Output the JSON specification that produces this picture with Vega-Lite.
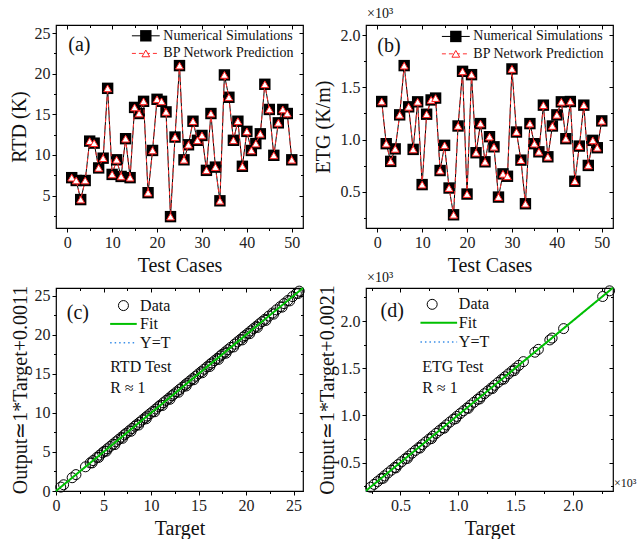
{
  "$schema": "https://vega.github.io/schema/vega-lite/v6.json",
  "background": "white",
  "padding": {"left": 8, "top": 6, "right": 0, "bottom": 0},
  "bounds": "flush",
  "columns": 2,
  "spacing": {"row": 60, "column": 63},
  "datasets": {
    "ts": [
      {"case": 1, "rtd_sim": 7.2, "rtd_pred": 7.2, "etg_sim": 1.365, "etg_pred": 1.365},
      {"case": 2, "rtd_sim": 6.85, "rtd_pred": 6.85, "etg_sim": 0.96, "etg_pred": 0.96},
      {"case": 3, "rtd_sim": 4.5, "rtd_pred": 4.5, "etg_sim": 0.79, "etg_pred": 0.79},
      {"case": 4, "rtd_sim": 6.85, "rtd_pred": 6.85, "etg_sim": 0.91, "etg_pred": 0.91},
      {"case": 5, "rtd_sim": 11.7, "rtd_pred": 11.7, "etg_sim": 1.237, "etg_pred": 1.237},
      {"case": 6, "rtd_sim": 11.45, "rtd_pred": 11.45, "etg_sim": 1.71, "etg_pred": 1.71},
      {"case": 7, "rtd_sim": 8.4, "rtd_pred": 8.4, "etg_sim": 1.314, "etg_pred": 1.314},
      {"case": 8, "rtd_sim": 9.6, "rtd_pred": 9.6, "etg_sim": 0.905, "etg_pred": 0.905},
      {"case": 9, "rtd_sim": 18.2, "rtd_pred": 18.2, "etg_sim": 1.362, "etg_pred": 1.362},
      {"case": 10, "rtd_sim": 7.6, "rtd_pred": 7.6, "etg_sim": 0.567, "etg_pred": 0.567},
      {"case": 11, "rtd_sim": 9.4, "rtd_pred": 9.4, "etg_sim": 1.243, "etg_pred": 1.243},
      {"case": 12, "rtd_sim": 7.35, "rtd_pred": 7.35, "etg_sim": 1.38, "etg_pred": 1.38},
      {"case": 13, "rtd_sim": 12.0, "rtd_pred": 12.0, "etg_sim": 1.398, "etg_pred": 1.398},
      {"case": 14, "rtd_sim": 7.2, "rtd_pred": 7.2, "etg_sim": 0.702, "etg_pred": 0.702},
      {"case": 15, "rtd_sim": 15.85, "rtd_pred": 15.85, "etg_sim": 0.944, "etg_pred": 0.944},
      {"case": 16, "rtd_sim": 15.1, "rtd_pred": 15.1, "etg_sim": 0.534, "etg_pred": 0.534},
      {"case": 17, "rtd_sim": 16.6, "rtd_pred": 16.6, "etg_sim": 0.277, "etg_pred": 0.277},
      {"case": 18, "rtd_sim": 5.35, "rtd_pred": 5.35, "etg_sim": 1.13, "etg_pred": 1.13},
      {"case": 19, "rtd_sim": 10.55, "rtd_pred": 10.55, "etg_sim": 1.655, "etg_pred": 1.655},
      {"case": 20, "rtd_sim": 16.85, "rtd_pred": 16.85, "etg_sim": 0.476, "etg_pred": 0.476},
      {"case": 21, "rtd_sim": 16.6, "rtd_pred": 16.6, "etg_sim": 1.623, "etg_pred": 1.623},
      {"case": 22, "rtd_sim": 15.3, "rtd_pred": 15.3, "etg_sim": 0.873, "etg_pred": 0.873},
      {"case": 23, "rtd_sim": 2.4, "rtd_pred": 2.4, "etg_sim": 1.153, "etg_pred": 1.153},
      {"case": 24, "rtd_sim": 12.2, "rtd_pred": 12.2, "etg_sim": 0.786, "etg_pred": 0.786},
      {"case": 25, "rtd_sim": 21.0, "rtd_pred": 21.0, "etg_sim": 1.027, "etg_pred": 1.027},
      {"case": 26, "rtd_sim": 9.4, "rtd_pred": 9.4, "etg_sim": 0.93, "etg_pred": 0.93},
      {"case": 27, "rtd_sim": 11.25, "rtd_pred": 11.25, "etg_sim": 0.447, "etg_pred": 0.447},
      {"case": 28, "rtd_sim": 14.15, "rtd_pred": 14.15, "etg_sim": 0.67, "etg_pred": 0.67},
      {"case": 29, "rtd_sim": 11.8, "rtd_pred": 11.8, "etg_sim": 0.647, "etg_pred": 0.647},
      {"case": 30, "rtd_sim": 12.4, "rtd_pred": 12.4, "etg_sim": 1.678, "etg_pred": 1.678},
      {"case": 31, "rtd_sim": 8.1, "rtd_pred": 8.1, "etg_sim": 1.072, "etg_pred": 1.072},
      {"case": 32, "rtd_sim": 15.1, "rtd_pred": 15.1, "etg_sim": 0.802, "etg_pred": 0.802},
      {"case": 33, "rtd_sim": 8.5, "rtd_pred": 8.5, "etg_sim": 0.383, "etg_pred": 0.383},
      {"case": 34, "rtd_sim": 4.35, "rtd_pred": 4.35, "etg_sim": 1.153, "etg_pred": 1.153},
      {"case": 35, "rtd_sim": 19.85, "rtd_pred": 19.85, "etg_sim": 0.96, "etg_pred": 0.96},
      {"case": 36, "rtd_sim": 17.1, "rtd_pred": 17.1, "etg_sim": 0.882, "etg_pred": 0.882},
      {"case": 37, "rtd_sim": 11.8, "rtd_pred": 11.8, "etg_sim": 1.33, "etg_pred": 1.33},
      {"case": 38, "rtd_sim": 14.15, "rtd_pred": 14.15, "etg_sim": 0.834, "etg_pred": 0.834},
      {"case": 39, "rtd_sim": 8.6, "rtd_pred": 8.6, "etg_sim": 1.13, "etg_pred": 1.13},
      {"case": 40, "rtd_sim": 12.9, "rtd_pred": 12.9, "etg_sim": 1.237, "etg_pred": 1.237},
      {"case": 41, "rtd_sim": 10.55, "rtd_pred": 10.55, "etg_sim": 1.362, "etg_pred": 1.362},
      {"case": 42, "rtd_sim": 11.4, "rtd_pred": 11.4, "etg_sim": 1.008, "etg_pred": 1.008},
      {"case": 43, "rtd_sim": 12.6, "rtd_pred": 12.6, "etg_sim": 1.365, "etg_pred": 1.365},
      {"case": 44, "rtd_sim": 18.7, "rtd_pred": 18.7, "etg_sim": 0.599, "etg_pred": 0.599},
      {"case": 45, "rtd_sim": 15.6, "rtd_pred": 15.6, "etg_sim": 0.937, "etg_pred": 0.937},
      {"case": 46, "rtd_sim": 9.95, "rtd_pred": 9.95, "etg_sim": 1.33, "etg_pred": 1.33},
      {"case": 47, "rtd_sim": 13.95, "rtd_pred": 13.95, "etg_sim": 0.751, "etg_pred": 0.751},
      {"case": 48, "rtd_sim": 15.6, "rtd_pred": 15.6, "etg_sim": 0.992, "etg_pred": 0.992},
      {"case": 49, "rtd_sim": 15.1, "rtd_pred": 15.1, "etg_sim": 0.921, "etg_pred": 0.921},
      {"case": 50, "rtd_sim": 9.4, "rtd_pred": 9.4, "etg_sim": 1.179, "etg_pred": 1.179}
    ],
    "rtd_reg": [
      {"target": 0.5, "output": 0.5}, {"target": 0.8, "output": 0.8}, {"target": 1.7, "output": 1.7}, {"target": 2.1, "output": 2.1},
      {"target": 3.1, "output": 3.1}, {"target": 3.6, "output": 3.6}, {"target": 3.9, "output": 3.9}, {"target": 4.3, "output": 4.3},
      {"target": 4.6, "output": 4.6}, {"target": 4.9, "output": 4.9}, {"target": 5.1, "output": 5.1}, {"target": 5.4, "output": 5.4},
      {"target": 5.7, "output": 5.7}, {"target": 6.0, "output": 6.0}, {"target": 6.3, "output": 6.3}, {"target": 6.6, "output": 6.6},
      {"target": 6.9, "output": 6.9}, {"target": 7.2, "output": 7.2}, {"target": 7.4, "output": 7.4}, {"target": 7.7, "output": 7.7},
      {"target": 8.0, "output": 8.0}, {"target": 8.3, "output": 8.3}, {"target": 8.5, "output": 8.5}, {"target": 8.8, "output": 8.8},
      {"target": 9.1, "output": 9.1}, {"target": 9.4, "output": 9.4}, {"target": 9.6, "output": 9.6}, {"target": 9.9, "output": 9.9},
      {"target": 10.2, "output": 10.2}, {"target": 10.5, "output": 10.5}, {"target": 10.8, "output": 10.8}, {"target": 11.0, "output": 11.0},
      {"target": 11.3, "output": 11.3}, {"target": 11.6, "output": 11.6}, {"target": 11.9, "output": 11.9}, {"target": 12.2, "output": 12.2},
      {"target": 12.4, "output": 12.4}, {"target": 12.7, "output": 12.7}, {"target": 13.0, "output": 13.0}, {"target": 13.3, "output": 13.3},
      {"target": 13.6, "output": 13.6}, {"target": 13.8, "output": 13.8}, {"target": 14.1, "output": 14.1}, {"target": 14.4, "output": 14.4},
      {"target": 14.7, "output": 14.7}, {"target": 15.0, "output": 15.0}, {"target": 15.3, "output": 15.3}, {"target": 15.6, "output": 15.6},
      {"target": 15.9, "output": 15.9}, {"target": 16.2, "output": 16.2}, {"target": 16.4, "output": 16.4}, {"target": 16.7, "output": 16.7},
      {"target": 17.0, "output": 17.0}, {"target": 17.3, "output": 17.3}, {"target": 17.5, "output": 17.5}, {"target": 17.8, "output": 17.8},
      {"target": 18.1, "output": 18.1}, {"target": 18.4, "output": 18.4}, {"target": 18.8, "output": 18.8}, {"target": 19.1, "output": 19.1},
      {"target": 19.4, "output": 19.4}, {"target": 19.7, "output": 19.7}, {"target": 19.9, "output": 19.9}, {"target": 20.2, "output": 20.2},
      {"target": 20.5, "output": 20.5}, {"target": 20.8, "output": 20.8}, {"target": 21.1, "output": 21.1}, {"target": 21.4, "output": 21.4},
      {"target": 21.7, "output": 21.7}, {"target": 22.0, "output": 22.0}, {"target": 22.4, "output": 22.4}, {"target": 22.8, "output": 22.8},
      {"target": 23.2, "output": 23.2}, {"target": 23.6, "output": 23.6}, {"target": 24.0, "output": 24.0}, {"target": 24.4, "output": 24.4},
      {"target": 24.9, "output": 24.9}, {"target": 25.3, "output": 25.3}, {"target": 25.6, "output": 25.6},
      {"target": 3.8, "output": 3.6}, {"target": 4.5, "output": 4.3}, {"target": 5.3, "output": 5.1}, {"target": 6.2, "output": 5.95},
      {"target": 7.0, "output": 6.75}, {"target": 7.9, "output": 7.65}, {"target": 8.7, "output": 8.45}, {"target": 9.5, "output": 9.25},
      {"target": 10.4, "output": 10.15}, {"target": 11.2, "output": 10.95}, {"target": 12.0, "output": 11.75}, {"target": 12.9, "output": 12.65},
      {"target": 13.7, "output": 13.45}, {"target": 14.5, "output": 14.25}, {"target": 15.4, "output": 15.15}, {"target": 16.2, "output": 15.95},
      {"target": 17.1, "output": 16.85}, {"target": 17.9, "output": 17.65}, {"target": 18.7, "output": 18.45}, {"target": 19.6, "output": 19.35},
      {"target": 20.4, "output": 20.15}, {"target": 21.2, "output": 20.95}, {"target": 22.1, "output": 21.85}, {"target": 22.9, "output": 22.65},
      {"target": 23.8, "output": 23.55}, {"target": 24.6, "output": 24.35}, {"target": 25.5, "output": 25.3}
    ],
    "etg_reg": [
      {"target": 0.24, "output": 0.24}, {"target": 0.27, "output": 0.27}, {"target": 0.30, "output": 0.30}, {"target": 0.33, "output": 0.33},
      {"target": 0.36, "output": 0.36}, {"target": 0.39, "output": 0.39}, {"target": 0.42, "output": 0.42}, {"target": 0.45, "output": 0.45},
      {"target": 0.48, "output": 0.48}, {"target": 0.51, "output": 0.51}, {"target": 0.54, "output": 0.54}, {"target": 0.57, "output": 0.57},
      {"target": 0.60, "output": 0.60}, {"target": 0.63, "output": 0.63}, {"target": 0.66, "output": 0.66}, {"target": 0.69, "output": 0.69},
      {"target": 0.72, "output": 0.72}, {"target": 0.75, "output": 0.75}, {"target": 0.78, "output": 0.78}, {"target": 0.81, "output": 0.81},
      {"target": 0.84, "output": 0.84}, {"target": 0.87, "output": 0.87}, {"target": 0.90, "output": 0.90}, {"target": 0.93, "output": 0.93},
      {"target": 0.96, "output": 0.96}, {"target": 0.99, "output": 0.99}, {"target": 1.02, "output": 1.02}, {"target": 1.05, "output": 1.05},
      {"target": 1.08, "output": 1.08}, {"target": 1.11, "output": 1.11}, {"target": 1.14, "output": 1.14}, {"target": 1.17, "output": 1.17},
      {"target": 1.20, "output": 1.20}, {"target": 1.23, "output": 1.23}, {"target": 1.26, "output": 1.26}, {"target": 1.29, "output": 1.29},
      {"target": 1.32, "output": 1.32}, {"target": 1.35, "output": 1.35}, {"target": 1.38, "output": 1.38}, {"target": 1.41, "output": 1.41},
      {"target": 1.44, "output": 1.44}, {"target": 1.47, "output": 1.47}, {"target": 1.50, "output": 1.50}, {"target": 1.53, "output": 1.53},
      {"target": 1.57, "output": 1.57}, {"target": 1.67, "output": 1.67}, {"target": 1.70, "output": 1.70}, {"target": 1.80, "output": 1.80},
      {"target": 1.82, "output": 1.82}, {"target": 1.92, "output": 1.92}, {"target": 2.26, "output": 2.26}, {"target": 2.32, "output": 2.32},
      {"target": 0.35, "output": 0.335}, {"target": 0.46, "output": 0.445}, {"target": 0.56, "output": 0.545}, {"target": 0.67, "output": 0.655},
      {"target": 0.77, "output": 0.755}, {"target": 0.88, "output": 0.865}, {"target": 0.98, "output": 0.965}, {"target": 1.09, "output": 1.075},
      {"target": 1.19, "output": 1.175}, {"target": 1.30, "output": 1.285}, {"target": 1.40, "output": 1.385}, {"target": 1.49, "output": 1.475}
    ]
  },
  "concat": [
    {
      "width": 247, "height": 203,
      "data": {"name": "ts"},
      "layer": [
        {"mark": {"type": "line", "color": "black", "strokeWidth": 1},
         "encoding": {
           "x": {"field": "case", "type": "quantitative", "scale": {"domain": [-2.5, 52.5], "nice": false, "zero": false},
                 "axis": {"orient": "bottom", "title": "Test Cases", "values": [0, 5, 10, 15, 20, 25, 30, 35, 40, 45, 50], "labelExpr": "datum.value % 10 === 0 ? datum.label : ''", "tickSize": {"expr": "datum.value % 10 === 0 ? 4 : 2.5"}, "titlePadding": 5}},
           "y": {"field": "rtd_sim", "type": "quantitative", "scale": {"domain": [1, 26], "nice": false, "zero": false},
                 "axis": {"orient": "left", "title": "RTD (K)", "values": [2.5, 5, 7.5, 10, 12.5, 15, 17.5, 20, 22.5, 25], "labelExpr": "datum.value % 5 === 0 ? datum.label : ''", "tickSize": {"expr": "datum.value % 5 === 0 ? 4 : 2.5"}, "titlePadding": 5}}}},
        {"mark": {"type": "point", "shape": "square", "filled": true, "color": "black", "size": 130, "opacity": 1},
         "encoding": {"x": {"field": "case", "type": "quantitative", "axis": null}, "y": {"field": "rtd_sim", "type": "quantitative", "axis": null}}},
        {"mark": {"type": "line", "color": "#ff3030", "strokeWidth": 1, "strokeDash": [4, 3]},
         "encoding": {
           "x": {"field": "case", "type": "quantitative", "axis": {"orient": "top", "title": null, "labels": false, "values": [0, 5, 10, 15, 20, 25, 30, 35, 40, 45, 50], "tickSize": {"expr": "datum.value % 10 === 0 ? -4 : -2.5"}}},
           "y": {"field": "rtd_pred", "type": "quantitative", "axis": {"orient": "right", "title": null, "labels": false, "values": [2.5, 5, 7.5, 10, 12.5, 15, 17.5, 20, 22.5, 25], "tickSize": {"expr": "datum.value % 5 === 0 ? -4 : -2.5"}}}}},
        {"mark": {"type": "point", "shape": "triangle-up", "filled": true, "fill": "white", "stroke": "#ff2020", "strokeWidth": 1, "size": 60, "opacity": 1},
         "encoding": {"x": {"field": "case", "type": "quantitative", "axis": null}, "y": {"field": "rtd_pred", "type": "quantitative", "axis": null}}},
        {"data": {"values": [{}]}, "mark": {"type": "rule", "color": "black", "strokeWidth": 1},
         "encoding": {"x": {"datum": 14.4, "type": "quantitative", "axis": null}, "x2": {"datum": 20.6}, "y": {"datum": 24.67, "type": "quantitative", "axis": null}}},
        {"data": {"values": [{}]}, "mark": {"type": "point", "shape": "square", "filled": true, "color": "black", "size": 130, "opacity": 1},
         "encoding": {"x": {"datum": 17.5, "type": "quantitative", "axis": null}, "y": {"datum": 24.67, "type": "quantitative", "axis": null}}},
        {"data": {"values": [{}]}, "mark": {"type": "text", "text": "Numerical Simulations", "font": "Liberation Serif", "align": "left", "baseline": "middle", "fontSize": 14, "color": "#111"},
         "encoding": {"x": {"datum": 21.4, "type": "quantitative", "axis": null}, "y": {"datum": 24.67, "type": "quantitative", "axis": null}}},
        {"data": {"values": [{}]}, "mark": {"type": "rule", "color": "#ff3030", "strokeWidth": 1, "strokeDash": [4, 3]},
         "encoding": {"x": {"datum": 14.4, "type": "quantitative", "axis": null}, "x2": {"datum": 20.6}, "y": {"datum": 22.5, "type": "quantitative", "axis": null}}},
        {"data": {"values": [{}]}, "mark": {"type": "point", "shape": "triangle-up", "filled": true, "fill": "white", "stroke": "#ff2020", "strokeWidth": 1, "size": 60, "opacity": 1},
         "encoding": {"x": {"datum": 17.5, "type": "quantitative", "axis": null}, "y": {"datum": 22.5, "type": "quantitative", "axis": null}}},
        {"data": {"values": [{}]}, "mark": {"type": "text", "text": "BP Network Prediction", "font": "Liberation Serif", "align": "left", "baseline": "middle", "fontSize": 14, "color": "#111"},
         "encoding": {"x": {"datum": 21.4, "type": "quantitative", "axis": null}, "y": {"datum": 22.5, "type": "quantitative", "axis": null}}},
        {"data": {"values": [{}]}, "mark": {"type": "text", "text": "(a)", "font": "Liberation Serif", "align": "center", "baseline": "middle", "fontSize": 20, "color": "#111"},
         "encoding": {"x": {"datum": 2.7, "type": "quantitative", "axis": null}, "y": {"datum": 23.55, "type": "quantitative", "axis": null}}}
      ]
    },
    {
      "width": 247, "height": 203,
      "data": {"name": "ts"},
      "layer": [
        {"mark": {"type": "line", "color": "black", "strokeWidth": 1},
         "encoding": {
           "x": {"field": "case", "type": "quantitative", "scale": {"domain": [-2.5, 52.5], "nice": false, "zero": false},
                 "axis": {"orient": "bottom", "title": "Test Cases", "values": [0, 5, 10, 15, 20, 25, 30, 35, 40, 45, 50], "labelExpr": "datum.value % 10 === 0 ? datum.label : ''", "tickSize": {"expr": "datum.value % 10 === 0 ? 4 : 2.5"}, "titlePadding": 5}},
           "y": {"field": "etg_sim", "type": "quantitative", "scale": {"domain": [0.15, 2.1], "nice": false, "zero": false},
                 "axis": {"orient": "left", "title": "ETG (K/m)", "format": ".1f", "values": [0.25, 0.5, 0.75, 1, 1.25, 1.5, 1.75, 2], "labelExpr": "abs(datum.value*2 - round(datum.value*2)) < 0.001 ? datum.label : ''", "tickSize": {"expr": "abs(datum.value*2 - round(datum.value*2)) < 0.001 ? 4 : 2.5"}, "titlePadding": 7}}}},
        {"mark": {"type": "point", "shape": "square", "filled": true, "color": "black", "size": 130, "opacity": 1},
         "encoding": {"x": {"field": "case", "type": "quantitative", "axis": null}, "y": {"field": "etg_sim", "type": "quantitative", "axis": null}}},
        {"mark": {"type": "line", "color": "#ff3030", "strokeWidth": 1, "strokeDash": [4, 3]},
         "encoding": {
           "x": {"field": "case", "type": "quantitative", "axis": {"orient": "top", "title": null, "labels": false, "values": [0, 5, 10, 15, 20, 25, 30, 35, 40, 45, 50], "tickSize": {"expr": "datum.value % 10 === 0 ? -4 : -2.5"}}},
           "y": {"field": "etg_pred", "type": "quantitative", "axis": {"orient": "right", "title": null, "labels": false, "values": [0.25, 0.5, 0.75, 1, 1.25, 1.5, 1.75, 2], "tickSize": {"expr": "abs(datum.value*2 - round(datum.value*2)) < 0.001 ? -4 : -2.5"}}}}},
        {"mark": {"type": "point", "shape": "triangle-up", "filled": true, "fill": "white", "stroke": "#ff2020", "strokeWidth": 1, "size": 60, "opacity": 1},
         "encoding": {"x": {"field": "case", "type": "quantitative", "axis": null}, "y": {"field": "etg_pred", "type": "quantitative", "axis": null}}},
        {"data": {"values": [{}]}, "mark": {"type": "rule", "color": "black", "strokeWidth": 1},
         "encoding": {"x": {"datum": 14.4, "type": "quantitative", "axis": null}, "x2": {"datum": 20.6}, "y": {"datum": 1.99, "type": "quantitative", "axis": null}}},
        {"data": {"values": [{}]}, "mark": {"type": "point", "shape": "square", "filled": true, "color": "black", "size": 130, "opacity": 1},
         "encoding": {"x": {"datum": 17.5, "type": "quantitative", "axis": null}, "y": {"datum": 1.99, "type": "quantitative", "axis": null}}},
        {"data": {"values": [{}]}, "mark": {"type": "text", "text": "Numerical Simulations", "font": "Liberation Serif", "align": "left", "baseline": "middle", "fontSize": 14, "color": "#111"},
         "encoding": {"x": {"datum": 21.4, "type": "quantitative", "axis": null}, "y": {"datum": 1.99, "type": "quantitative", "axis": null}}},
        {"data": {"values": [{}]}, "mark": {"type": "rule", "color": "#ff3030", "strokeWidth": 1, "strokeDash": [4, 3]},
         "encoding": {"x": {"datum": 14.4, "type": "quantitative", "axis": null}, "x2": {"datum": 20.6}, "y": {"datum": 1.823, "type": "quantitative", "axis": null}}},
        {"data": {"values": [{}]}, "mark": {"type": "point", "shape": "triangle-up", "filled": true, "fill": "white", "stroke": "#ff2020", "strokeWidth": 1, "size": 60, "opacity": 1},
         "encoding": {"x": {"datum": 17.5, "type": "quantitative", "axis": null}, "y": {"datum": 1.823, "type": "quantitative", "axis": null}}},
        {"data": {"values": [{}]}, "mark": {"type": "text", "text": "BP Network Prediction", "font": "Liberation Serif", "align": "left", "baseline": "middle", "fontSize": 14, "color": "#111"},
         "encoding": {"x": {"datum": 21.4, "type": "quantitative", "axis": null}, "y": {"datum": 1.823, "type": "quantitative", "axis": null}}},
        {"data": {"values": [{}]}, "mark": {"type": "text", "text": "(b)", "font": "Liberation Serif", "align": "center", "baseline": "middle", "fontSize": 20, "color": "#111"},
         "encoding": {"x": {"datum": 2.6, "type": "quantitative", "axis": null}, "y": {"datum": 1.9, "type": "quantitative", "axis": null}}},
        {"data": {"values": [{}]}, "mark": {"type": "text", "text": "×10³", "font": "Liberation Serif", "align": "left", "baseline": "middle", "dx": 1, "dy": -11, "fontSize": 14, "color": "#111"},
         "encoding": {"x": {"datum": -2.5, "type": "quantitative", "axis": null}, "y": {"datum": 2.1, "type": "quantitative", "axis": null}}}
      ]
    },
    {
      "width": 247, "height": 203,
      "data": {"name": "rtd_reg"},
      "layer": [
        {"mark": {"type": "point", "shape": "circle", "filled": false, "color": "black", "strokeWidth": 1, "size": 100, "opacity": 1},
         "encoding": {
           "x": {"field": "target", "type": "quantitative", "scale": {"domain": [0, 26], "nice": false, "zero": false},
                 "axis": {"orient": "bottom", "title": "Target", "values": [0, 2.5, 5, 7.5, 10, 12.5, 15, 17.5, 20, 22.5, 25], "labelExpr": "datum.value % 5 === 0 ? datum.label : ''", "tickSize": {"expr": "datum.value % 5 === 0 ? 4 : 2.5"}, "titlePadding": 5}},
           "y": {"field": "output", "type": "quantitative", "scale": {"domain": [0, 26], "nice": false, "zero": false},
                 "axis": {"orient": "left", "title": "Output≃1*Target+0.0011", "values": [0, 2.5, 5, 7.5, 10, 12.5, 15, 17.5, 20, 22.5, 25], "labelExpr": "datum.value % 5 === 0 ? datum.label : ''", "tickSize": {"expr": "datum.value % 5 === 0 ? 4 : 2.5"}, "titlePadding": 4}}}},
        {"data": {"values": [{}]}, "mark": {"type": "rule", "color": "#3b8fe8", "strokeWidth": 1.5, "strokeDash": [1.5, 3]},
         "encoding": {"x": {"datum": 0, "type": "quantitative", "axis": null}, "x2": {"datum": 26}, "y": {"datum": 0, "type": "quantitative", "axis": null}, "y2": {"datum": 26}}},
        {"data": {"values": [{}]}, "mark": {"type": "rule", "color": "#00c000", "strokeWidth": 2},
         "encoding": {"x": {"datum": 0, "type": "quantitative", "axis": {"orient": "top", "title": null, "labels": false, "values": [0, 2.5, 5, 7.5, 10, 12.5, 15, 17.5, 20, 22.5, 25], "tickSize": {"expr": "datum.value % 5 === 0 ? -4 : -2.5"}}}, "x2": {"datum": 26},
                      "y": {"datum": 0.0011, "type": "quantitative", "axis": {"orient": "right", "title": null, "labels": false, "values": [0, 2.5, 5, 7.5, 10, 12.5, 15, 17.5, 20, 22.5, 25], "tickSize": {"expr": "datum.value % 5 === 0 ? -4 : -2.5"}}}, "y2": {"datum": 26.0011}}},
        {"data": {"values": [{}]}, "mark": {"type": "point", "shape": "circle", "filled": false, "color": "black", "strokeWidth": 1, "size": 100, "opacity": 1},
         "encoding": {"x": {"datum": 7.1, "type": "quantitative", "axis": null}, "y": {"datum": 23.75, "type": "quantitative", "axis": null}}},
        {"data": {"values": [{}]}, "mark": {"type": "text", "text": "Data", "font": "Liberation Serif", "align": "left", "baseline": "middle", "fontSize": 16, "color": "#111"},
         "encoding": {"x": {"datum": 8.85, "type": "quantitative", "axis": null}, "y": {"datum": 23.75, "type": "quantitative", "axis": null}}},
        {"data": {"values": [{}]}, "mark": {"type": "rule", "color": "#00c000", "strokeWidth": 2},
         "encoding": {"x": {"datum": 5.7, "type": "quantitative", "axis": null}, "x2": {"datum": 8.5}, "y": {"datum": 21.4, "type": "quantitative", "axis": null}}},
        {"data": {"values": [{}]}, "mark": {"type": "text", "text": "Fit", "font": "Liberation Serif", "align": "left", "baseline": "middle", "fontSize": 16, "color": "#111"},
         "encoding": {"x": {"datum": 8.85, "type": "quantitative", "axis": null}, "y": {"datum": 21.4, "type": "quantitative", "axis": null}}},
        {"data": {"values": [{}]}, "mark": {"type": "rule", "color": "#3b8fe8", "strokeWidth": 1.5, "strokeDash": [1.5, 3]},
         "encoding": {"x": {"datum": 5.7, "type": "quantitative", "axis": null}, "x2": {"datum": 8.5}, "y": {"datum": 19.0, "type": "quantitative", "axis": null}}},
        {"data": {"values": [{}]}, "mark": {"type": "text", "text": "Y=T", "font": "Liberation Serif", "align": "left", "baseline": "middle", "fontSize": 16, "color": "#111"},
         "encoding": {"x": {"datum": 8.85, "type": "quantitative", "axis": null}, "y": {"datum": 19.0, "type": "quantitative", "axis": null}}},
        {"data": {"values": [{}]}, "mark": {"type": "text", "text": "RTD Test", "font": "Liberation Serif", "align": "left", "baseline": "middle", "fontSize": 16, "color": "#111"},
         "encoding": {"x": {"datum": 5.7, "type": "quantitative", "axis": null}, "y": {"datum": 15.9, "type": "quantitative", "axis": null}}},
        {"data": {"values": [{}]}, "mark": {"type": "text", "text": "R ≈ 1", "font": "Liberation Serif", "align": "left", "baseline": "middle", "fontSize": 16, "color": "#111"},
         "encoding": {"x": {"datum": 5.7, "type": "quantitative", "axis": null}, "y": {"datum": 13.2, "type": "quantitative", "axis": null}}},
        {"data": {"values": [{}]}, "mark": {"type": "text", "text": "(c)", "font": "Liberation Serif", "align": "center", "baseline": "middle", "fontSize": 20, "color": "#111"},
         "encoding": {"x": {"datum": 2.3, "type": "quantitative", "axis": null}, "y": {"datum": 22.8, "type": "quantitative", "axis": null}}}
      ]
    },
    {
      "width": 247, "height": 203,
      "data": {"name": "etg_reg"},
      "layer": [
        {"mark": {"type": "point", "shape": "circle", "filled": false, "color": "black", "strokeWidth": 1, "size": 100, "opacity": 1},
         "encoding": {
           "x": {"field": "target", "type": "quantitative", "scale": {"domain": [0.2, 2.35], "nice": false, "zero": false},
                 "axis": {"orient": "bottom", "title": "Target", "format": ".1f", "values": [0.25, 0.5, 0.75, 1, 1.25, 1.5, 1.75, 2, 2.25], "labelExpr": "abs(datum.value*2 - round(datum.value*2)) < 0.001 ? datum.label : ''", "tickSize": {"expr": "abs(datum.value*2 - round(datum.value*2)) < 0.001 ? 4 : 2.5"}, "titlePadding": 5}},
           "y": {"field": "output", "type": "quantitative", "scale": {"domain": [0.2, 2.35], "nice": false, "zero": false},
                 "axis": {"orient": "left", "title": "Output≃1*Target+0.0021", "format": ".1f", "values": [0.25, 0.5, 0.75, 1, 1.25, 1.5, 1.75, 2, 2.25], "labelExpr": "abs(datum.value*2 - round(datum.value*2)) < 0.001 ? datum.label : ''", "tickSize": {"expr": "abs(datum.value*2 - round(datum.value*2)) < 0.001 ? 4 : 2.5"}, "titlePadding": 3}}}},
        {"data": {"values": [{}]}, "mark": {"type": "rule", "color": "#3b8fe8", "strokeWidth": 1.5, "strokeDash": [1.5, 3]},
         "encoding": {"x": {"datum": 0.2, "type": "quantitative", "axis": null}, "x2": {"datum": 2.35}, "y": {"datum": 0.2, "type": "quantitative", "axis": null}, "y2": {"datum": 2.35}}},
        {"data": {"values": [{}]}, "mark": {"type": "rule", "color": "#00c000", "strokeWidth": 2},
         "encoding": {"x": {"datum": 0.2, "type": "quantitative", "axis": {"orient": "top", "title": null, "labels": false, "values": [0.25, 0.5, 0.75, 1, 1.25, 1.5, 1.75, 2, 2.25], "tickSize": {"expr": "abs(datum.value*2 - round(datum.value*2)) < 0.001 ? -4 : -2.5"}}}, "x2": {"datum": 2.35},
                      "y": {"datum": 0.2021, "type": "quantitative", "axis": {"orient": "right", "title": null, "labels": false, "values": [0.25, 0.5, 0.75, 1, 1.25, 1.5, 1.75, 2, 2.25], "tickSize": {"expr": "abs(datum.value*2 - round(datum.value*2)) < 0.001 ? -4 : -2.5"}}}, "y2": {"datum": 2.3521}}},
        {"data": {"values": [{}]}, "mark": {"type": "point", "shape": "circle", "filled": false, "color": "black", "strokeWidth": 1, "size": 100, "opacity": 1},
         "encoding": {"x": {"datum": 0.776, "type": "quantitative", "axis": null}, "y": {"datum": 2.177, "type": "quantitative", "axis": null}}},
        {"data": {"values": [{}]}, "mark": {"type": "text", "text": "Data", "font": "Liberation Serif", "align": "left", "baseline": "middle", "fontSize": 16, "color": "#111"},
         "encoding": {"x": {"datum": 1.008, "type": "quantitative", "axis": null}, "y": {"datum": 2.177, "type": "quantitative", "axis": null}}},
        {"data": {"values": [{}]}, "mark": {"type": "rule", "color": "#00c000", "strokeWidth": 2},
         "encoding": {"x": {"datum": 0.674, "type": "quantitative", "axis": null}, "x2": {"datum": 0.993}, "y": {"datum": 1.983, "type": "quantitative", "axis": null}}},
        {"data": {"values": [{}]}, "mark": {"type": "text", "text": "Fit", "font": "Liberation Serif", "align": "left", "baseline": "middle", "fontSize": 16, "color": "#111"},
         "encoding": {"x": {"datum": 1.008, "type": "quantitative", "axis": null}, "y": {"datum": 1.983, "type": "quantitative", "axis": null}}},
        {"data": {"values": [{}]}, "mark": {"type": "rule", "color": "#3b8fe8", "strokeWidth": 1.5, "strokeDash": [1.5, 3]},
         "encoding": {"x": {"datum": 0.674, "type": "quantitative", "axis": null}, "x2": {"datum": 0.993}, "y": {"datum": 1.778, "type": "quantitative", "axis": null}}},
        {"data": {"values": [{}]}, "mark": {"type": "text", "text": "Y=T", "font": "Liberation Serif", "align": "left", "baseline": "middle", "fontSize": 16, "color": "#111"},
         "encoding": {"x": {"datum": 1.008, "type": "quantitative", "axis": null}, "y": {"datum": 1.778, "type": "quantitative", "axis": null}}},
        {"data": {"values": [{}]}, "mark": {"type": "text", "text": "ETG Test", "font": "Liberation Serif", "align": "left", "baseline": "middle", "fontSize": 16, "color": "#111"},
         "encoding": {"x": {"datum": 0.689, "type": "quantitative", "axis": null}, "y": {"datum": 1.517, "type": "quantitative", "axis": null}}},
        {"data": {"values": [{}]}, "mark": {"type": "text", "text": "R ≈ 1", "font": "Liberation Serif", "align": "left", "baseline": "middle", "fontSize": 16, "color": "#111"},
         "encoding": {"x": {"datum": 0.689, "type": "quantitative", "axis": null}, "y": {"datum": 1.295, "type": "quantitative", "axis": null}}},
        {"data": {"values": [{}]}, "mark": {"type": "text", "text": "(d)", "font": "Liberation Serif", "align": "center", "baseline": "middle", "fontSize": 20, "color": "#111"},
         "encoding": {"x": {"datum": 0.428, "type": "quantitative", "axis": null}, "y": {"datum": 2.106, "type": "quantitative", "axis": null}}},
        {"data": {"values": [{}]}, "mark": {"type": "text", "text": "×10³", "font": "Liberation Serif", "align": "left", "baseline": "middle", "dx": 1, "dy": -10, "fontSize": 14, "color": "#111"},
         "encoding": {"x": {"datum": 0.2, "type": "quantitative", "axis": null}, "y": {"datum": 2.35, "type": "quantitative", "axis": null}}},
        {"data": {"values": [{}]}, "mark": {"type": "text", "text": "×10³", "font": "Liberation Serif", "align": "left", "baseline": "middle", "dx": 1, "dy": -8, "fontSize": 12, "color": "#111"},
         "encoding": {"x": {"datum": 2.35, "type": "quantitative", "axis": null}, "y": {"datum": 0.2, "type": "quantitative", "axis": null}}}
      ]
    }
  ],
  "config": {
    "font": "Liberation Serif",
    "view": {"stroke": "black", "strokeWidth": 1.2},
    "text": {"font": "Liberation Serif"},
    "axis": {
      "labelFont": "Liberation Serif", "labelFontSize": 16, "labelColor": "#222", "labelPadding": 2,
      "labelFlush": false, "labelOverlap": false,
      "titleFont": "Liberation Serif", "titleFontSize": 20, "titleFontWeight": "normal", "titleColor": "#111",
      "grid": false, "domain": false, "tickColor": "black", "tickWidth": 1
    }
  }
}
